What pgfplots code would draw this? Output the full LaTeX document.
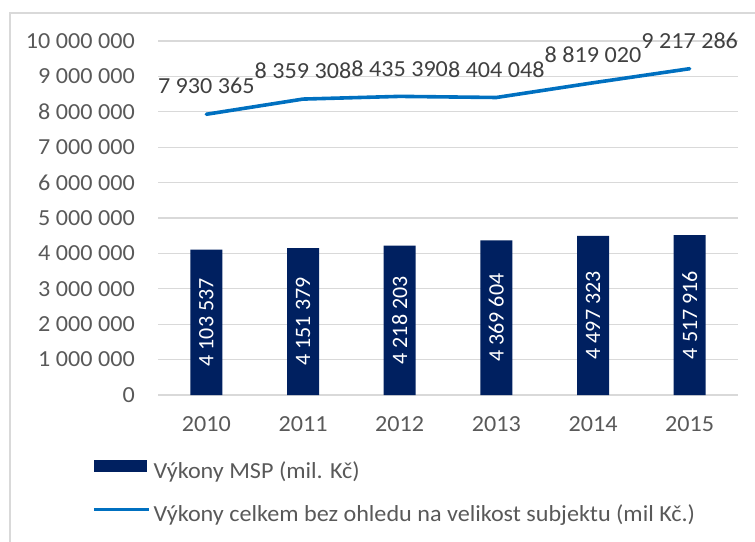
\documentclass[border=0pt]{standalone}
\usepackage{pgfplots}
\pgfplotsset{compat=1.18}
\usetikzlibrary{calc}
\usepackage{fontspec}
\setmainfont{Carlito}[FakeStretch=1.05]
\newfontfamily\barfont{Carlito}
\definecolor{barcol}{HTML}{002060}
\definecolor{linecol}{HTML}{0070C0}
\definecolor{txt}{HTML}{595959}
\definecolor{lbl}{HTML}{404040}
\definecolor{grd}{HTML}{D9D9D9}
\begin{document}
\fontsize{23}{27}\selectfont
\begin{tikzpicture}
\path[use as bounding box] (0pt,0pt) rectangle (755pt,541pt);
\draw[grd, line width=1.2pt] (10pt,-10pt) -- (10pt,528pt) -- (770pt,528pt);
\begin{axis}[
  at={(158pt,146pt)}, anchor=south west, scale only axis,
  width=580pt, height=354pt,
  xmin=-0.5, xmax=5.5, ymin=0, ymax=10000000,
  xtick={0,1,2,3,4,5}, xticklabels={2010,2011,2012,2013,2014,2015},
  ytick={0,1000000,2000000,3000000,4000000,5000000,6000000,7000000,8000000,9000000,10000000},
  scaled y ticks=false,
  /pgf/number format/fixed, /pgf/number format/precision=0,
  /pgf/number format/1000 sep={\ }, /pgf/number format/assume math mode=true,
  ymajorgrids, grid style={grd, line width=1.2pt},
  axis line style={draw=none}, major tick length=0pt,
  tick label style={text=txt, inner sep=0pt},
  yticklabel shift=23pt, xticklabel shift=21pt,
  legend style={at={(-0.1138,-0.278)}, anchor=west, draw=none, fill=none,
    inner sep=0pt, outer sep=0pt, row sep=23pt, column sep=3pt,
    nodes={inner sep=0pt, text height=15pt, text depth=5pt, text=txt}},
  legend cell align=left,
]
\addplot[ybar, bar width=32pt, fill=barcol, draw=none,
  nodes near coords, visualization depends on={rawy \as \rawy},
  every node near coord/.append style={text=white, anchor=center,
     font=\fontsize{22}{26}\barfont,
     shift={($(0pt,0pt)!0.5!(axis direction cs:0,-\rawy)$)}, rotate=90},
  legend image code/.code={\fill[barcol] (0pt,1pt) rectangle (53pt,13pt);}
] coordinates {(0,4103537) (1,4151379) (2,4218203) (3,4369604) (4,4497323) (5,4517916)};
\addplot[linecol, line width=3.6pt, mark=none, line join=round, line cap=round,
  nodes near coords,
  every node near coord/.append style={text=lbl, anchor=center, yshift=28pt},
  legend image code/.code={\draw[linecol, line width=3.6pt, line cap=butt] (0pt,7pt) -- (55pt,7pt);}
] coordinates {(0,7930365) (1,8359308) (2,8435390) (3,8404048) (4,8819020) (5,9217286)};
\legend{Výkony MSP (mil. Kč), Výkony celkem bez ohledu na velikost subjektu (mil Kč.)}
\end{axis}
\end{tikzpicture}
\end{document}
